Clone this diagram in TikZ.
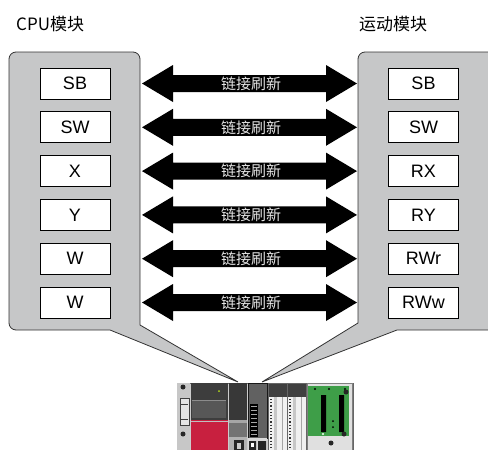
\documentclass[tikz,border=0pt]{standalone}
\usepackage{fontspec}
\setmainfont{Liberation Sans}
\newfontfamily\cjk{Noto Sans CJK SC}

\definecolor{panelgray}{HTML}{C6C7C8}
\definecolor{plcred}{HTML}{C8203F}
\definecolor{plcgreen}{HTML}{3E9E48}

\tikzset{
  regbox/.style={draw=black, fill=white, line width=0.9pt, minimum width=70, minimum height=31, inner sep=0pt, font=\fontsize{18}{18}\selectfont},
  panel/.style={draw=black!80, fill=panelgray, line width=0.8pt},
  title/.style={font=\cjk\fontsize{17}{17}\selectfont, anchor=west, inner sep=0pt},
  linktext/.style={font=\cjk\fontsize{15}{15}\selectfont, text=black!10, inner sep=0pt},
}

\begin{document}
\begin{tikzpicture}[x=1pt,y=-1pt]
\useasboundingbox (0,0) rectangle (488,450);
\clip (0,0) rectangle (488,450);

\node[title] (cputitle) at (16,24) {CPU模块};
\node[title] (mottitle) at (359,24) {运动模块};

% the two module panels, each pointing down to the rack
\filldraw[panel] (238,382) -- (140,325) {[rounded corners=7pt] -- (140,52) -- (9,52) -- (9,330)} -- (110,330) -- cycle;
\filldraw[panel] (262,382) -- (358,323) {[rounded corners=7pt] -- (358,52) -- (500,52) -- (500,330)} -- (397,330) -- cycle;

% devices and link refresh arrows
\foreach \i/\a/\b in {0/SB/SB,1/SW/SW,2/X/RX,3/Y/RY,4/W/RWr,5/W/RWw}{
  \node[regbox] (cpu\i) at (75,83.5+43.8*\i) {\a};
  \node[regbox] (mot\i) at (423.5,83.5+43.8*\i) {\b};
  \coordinate (ltip\i) at (142,83.5+43.8*\i);
  \coordinate (rtip\i) at (357,83.5+43.8*\i);
  \fill (ltip\i) -- ++(31,-18.5) -- ++(0,10) -- ++(153,0) -- ++(0,-10) -- (rtip\i)
        -- ++(-31,18.5) -- ++(0,-10) -- ++(-153,0) -- ++(0,10) -- cycle;
  \node[linktext] (link\i) at (251,83.5+43.8*\i) {链接刷新};
}

% controller rack
\fill[black!20] (177,383) rectangle (353,455);
\draw[black!60, line width=0.6pt] (177,383) rectangle (353,455);

% power supply
\fill[black!22] (177,383) rectangle (190,455);
\fill[white!90!black] (180,398) rectangle (189,425);
\draw[black!75, line width=0.9pt] (180,398) rectangle (189,425);
\draw[black!75, line width=0.6pt] (181,404) -- (188,404) (181,419) -- (188,419);
\fill[black!85] (183,387) circle (2.5) (183,434) circle (2.5);

% cpu module
\fill[black!76] (191,383) rectangle (228,420);
\fill[black!66] (192,401) rectangle (226,418);
\draw[black!45, line width=0.6pt] (192,400) -- (226,400);
\fill[plcred] (191,420) rectangle (228,455);
\draw[black!25, line width=0.8pt] (191,421) -- (228,421);
\fill[yellow!70!green] (219,391) circle (1);

% motion module
\fill[black!78] (229,383) rectangle (247,420);
\fill[black!35] (229,420) rectangle (247,423);
\fill[black!55] (229,423) rectangle (247,437);
\fill[black!30] (229,437) rectangle (247,455);
\fill[black!85] (234,440) rectangle (244,455);
\fill[black!20] (237,443) rectangle (241,449);

% network module
\fill[black!62] (248,383) rectangle (267,438);
\draw[black!90, line width=0.8pt] (248,383) rectangle (267,438);
\fill[black] (250,404) rectangle (258,437);
\foreach \k in {0,...,7}
  \fill[white!65!black] (251,406+4*\k) rectangle (257,407+4*\k);
\fill[black!15] (248,438) rectangle (267,455);
\fill[black!85] (249,441) rectangle (256,451) (258,441) rectangle (266,453);
\fill[white] (251,443) rectangle (254,447);

% i/o modules
\foreach \xx in {268,287}{
  \fill[black!75] (\xx,383) rectangle (\xx+19,397);
  \fill[black!6] (\xx,397) rectangle (\xx+19,455);
  \fill[black!22] (\xx+6,397) rectangle (\xx+9,455);
  \draw[black!35, line width=0.5pt] (\xx+14,397) -- (\xx+14,455);
  \draw[black!80, line width=1.2pt, dotted] (\xx+3,399) -- (\xx+3,455);
  \draw[black!60, line width=0.5pt] (\xx,383) rectangle (\xx+19,455);
}

% extension board
\fill[black!12] (307,383) rectangle (352,455);
\fill[plcgreen] (308,386) rectangle (349,436);
\fill[black] (321,395) rectangle (326,432) (339,395) rectangle (344,432);
\fill[black] (333,421) circle (1) (333,427) circle (1) (315,389) circle (1.2) (329,389) circle (1.2) (345,389) circle (1.2);
\fill[black!85] (346,392) circle (2.5) (344,434) circle (2.5) (331,443) circle (2.5);
\fill[white] (323,434) circle (1.2);
\draw[black!50, line width=0.5pt] (307,383) rectangle (352,455);
\end{tikzpicture}
\end{document}
